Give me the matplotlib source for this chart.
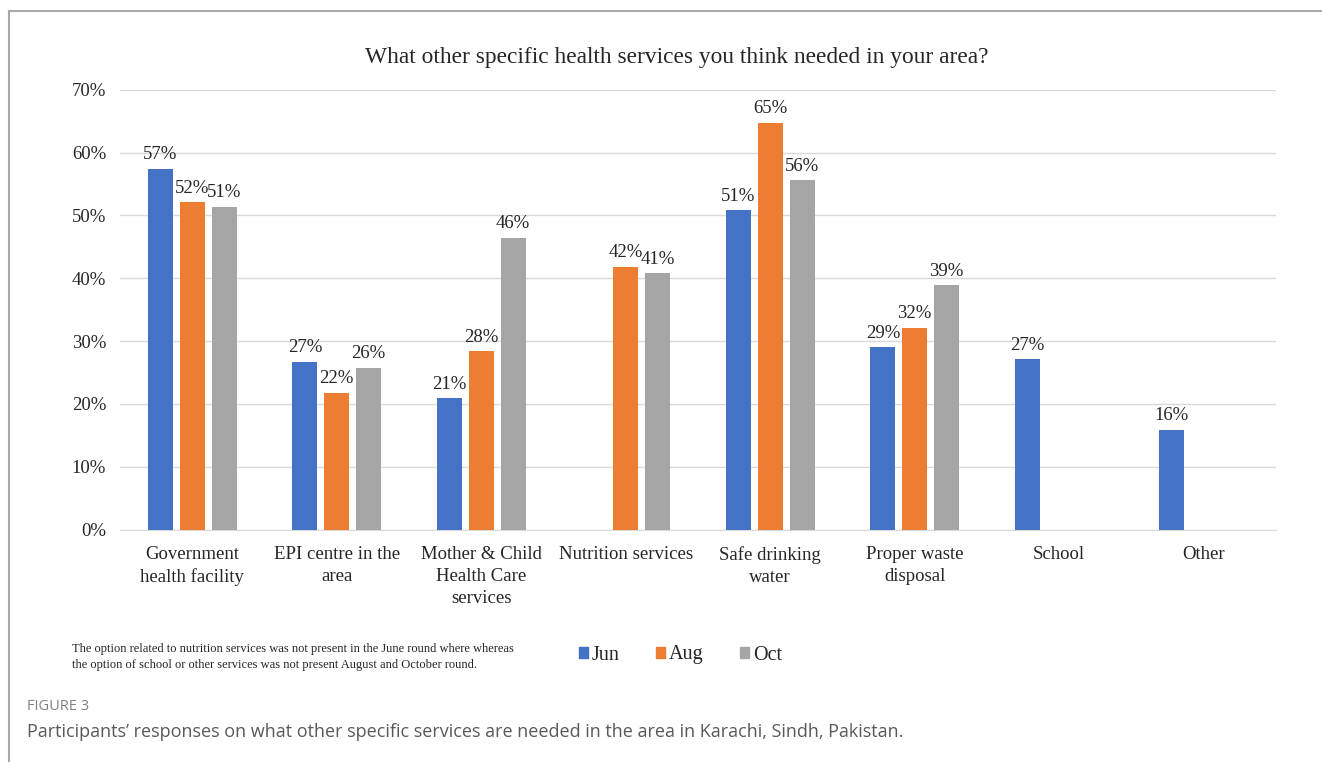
import matplotlib.pyplot as plt
import numpy as np
from matplotlib.lines import Line2D
from matplotlib.patches import Patch

W, H = 1322, 762

categories = [
    "Government\nhealth facility",
    "EPI centre in the\narea",
    "Mother & Child\nHealth Care\nservices",
    "Nutrition services",
    "Safe drinking\nwater",
    "Proper waste\ndisposal",
    "School",
    "Other",
]
rounds = ["Jun", "Aug", "Oct"]
jun = [57.4, 26.7, 20.9, np.nan, 50.8, 29.0, 27.1, 15.9]
aug = [52.1, 21.8, 28.4, 41.8, 64.7, 32.1, np.nan, np.nan]
oct_ = [51.4, 25.7, 46.4, 40.8, 55.6, 38.9, np.nan, np.nan]
colors = ["#4472C4", "#ED7D31", "#A5A5A5"]

plt.rcParams["font.family"] = ["Liberation Serif", "DejaVu Serif"]

fig = plt.figure(figsize=(W / 100, H / 100), dpi=100)


def px(x0, y0, x1, y1):
    return [x0 / W, 1 - y1 / H, (x1 - x0) / W, (y1 - y0) / H]


ax = fig.add_axes(px(120, 89.7, 1276, 529.5))

x = np.arange(len(categories))
step = 0.221
width = 0.173
for i, (vals, c) in enumerate(zip([jun, aug, oct_], colors)):
    pos = x + (i - 1) * step
    ax.bar(pos, vals, width=width, color=c, zorder=3)
    for xp, v in zip(pos, vals):
        if np.isnan(v):
            continue
        ax.annotate(f"{v:.0f}%", (xp, v), xytext=(0, 4), textcoords="offset points",
                    ha="center", va="bottom", fontsize=13.5, color="#262626")

ax.set_xlim(-0.5, len(categories) - 0.5)
ax.set_ylim(0, 70)
ax.set_yticks(np.arange(0, 71, 10))
ax.set_yticklabels([f"{t}%" for t in range(0, 71, 10)], fontsize=13.5, color="#262626")
ax.set_xticks(x)
ax.set_xticklabels(categories, fontsize=13.5, color="#262626", linespacing=1.37, va="top")
ax.tick_params(axis="both", length=0)
ax.tick_params(axis="y", pad=10)
ax.tick_params(axis="x", pad=12)
ax.grid(axis="y", color="#d9d9d9", lw=1, zorder=0)
for s in ["top", "right", "left"]:
    ax.spines[s].set_visible(False)
ax.spines["bottom"].set_color("#d9d9d9")

fig.text(677 / W, 1 - 57 / H, "What other specific health services you think needed in your area?",
         ha="center", va="center", fontsize=16.8, color="#262626")

fig.text(72 / W, 1 - 657 / H,
         "The option related to nutrition services was not present in the June round where whereas\n"
         "the option of school or other services was not present August and October round.",
         ha="left", va="center", fontsize=9, color="#262626", linespacing=1.45)

handles = [Patch(color=c) for c in colors]
fig.legend(handles, rounds, loc="center left", bbox_to_anchor=(561 / W, 1 - 655 / H), ncol=3,
           frameon=False, fontsize=14.5, handlelength=0.42, handleheight=0.42,
           handletextpad=0.2, columnspacing=1.83, labelcolor="#262626")

fig.text(27 / W, 1 - 707 / H, "FIGURE 3", ha="left", va="center", fontsize=10.5,
         color="#808080", family=["Open Sans", "DejaVu Sans"])
fig.text(27 / W, 1 - 732 / H,
         "Participants\u2019 responses on what other specific services are needed in the area in Karachi, Sindh, Pakistan.",
         ha="left", va="center", fontsize=13, color="#595959", family=["Open Sans", "DejaVu Sans"])

# frame around the figure panel
fig.add_artist(Line2D([9 / W, 1], [1 - 11 / H, 1 - 11 / H], transform=fig.transFigure,
                      color="#aaaaaa", lw=1.5))
fig.add_artist(Line2D([9 / W, 9 / W], [1 - 11 / H, 0], transform=fig.transFigure,
                      color="#aaaaaa", lw=1.5))

fig.savefig("out.png", dpi=100)
